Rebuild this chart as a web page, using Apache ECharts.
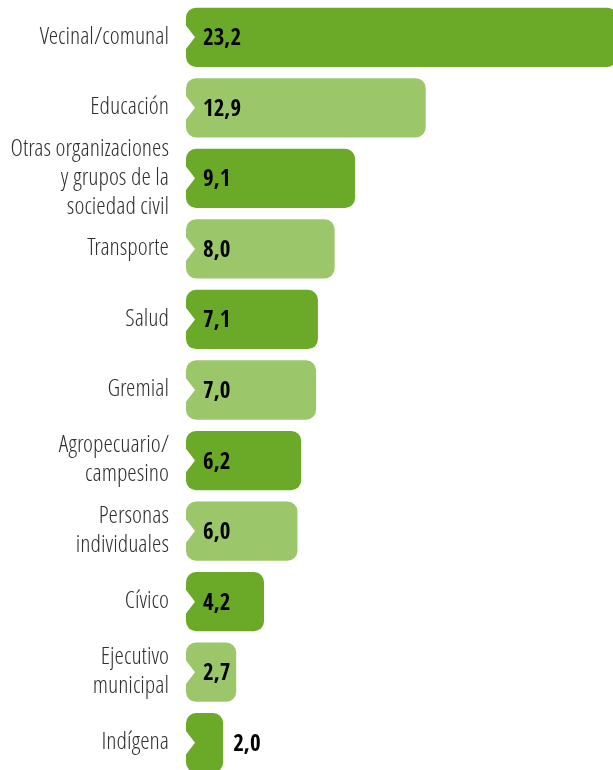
<!DOCTYPE html>
<html>
<head>
<meta charset="utf-8">
<script src="https://cdn.jsdelivr.net/npm/echarts@6/dist/echarts.min.js"></script>
<style>
  html, body { margin: 0; padding: 0; background: #ffffff; overflow: hidden; }
  /* the plot runs slightly past the bottom edge of the page, as the last bar is cut off */
  #chart { width: 613px; height: 778px; }
</style>
</head>
<body>
<div id="chart"></div>
<script>
// Sectors and their shares (%)
const categories = [
  'Vecinal/comunal',
  'Educación',
  'Otras organizaciones\ny grupos de la\nsociedad civil',
  'Transporte',
  'Salud',
  'Gremial',
  'Agropecuario/\ncampesino',
  'Personas\nindividuales',
  'Cívico',
  'Ejecutivo\nmunicipal',
  'Indígena'
];
const values = [23.2, 12.9, 9.1, 8.0, 7.1, 7.0, 6.2, 6.0, 4.2, 2.7, 2.0];

const DARK = '#6aaa28';
const LIGHT = '#9cc66a';
const LABEL_FONT = "'Open Sans Condensed Light', 'Open Sans Condensed', 'Roboto Condensed', sans-serif";
const VALUE_FONT = "'Open Sans Condensed', 'Roboto Condensed', sans-serif";

const fmt = v => v.toFixed(1).replace('.', ',');

const chart = echarts.init(document.getElementById('chart'), null, { renderer: 'canvas' });

// Bar with rounded corners and a chevron notch cut into its left end
function renderBar(params, api) {
  const idx = api.value(0);
  const val = api.value(1);
  const start = api.coord([0, idx]);
  const end = api.coord([val, idx]);
  const band = api.size([0, 1])[1];
  const h = band * 0.84;
  const x0 = start[0];
  const cy = start[1];
  const w = end[0] - x0;
  const color = idx % 2 === 0 ? DARK : LIGHT;
  const notchH = 13;
  const notchD = 9;
  const inside = w > 45;
  return {
    type: 'group',
    children: [
      {
        type: 'rect',
        shape: { x: x0, y: cy - h / 2, width: w, height: h, r: 10 },
        style: { fill: color }
      },
      {
        type: 'polygon',
        shape: { points: [[x0 - 1, cy - notchH], [x0 + notchD, cy], [x0 - 1, cy + notchH]] },
        style: { fill: '#ffffff' }
      },
      {
        type: 'text',
        style: {
          text: fmt(val),
          x: inside ? x0 + 17 : end[0] + 10,
          y: cy + 2,
          verticalAlign: 'middle',
          align: 'left',
          fill: '#000000',
          font: 'bold 23px ' + VALUE_FONT
        }
      }
    ]
  };
}

chart.setOption({
  animation: false,
  grid: { left: 186, right: 0, top: 2, bottom: 0, containLabel: false },
  xAxis: {
    type: 'value',
    min: 0,
    max: 22.98,
    show: false
  },
  yAxis: {
    type: 'category',
    data: categories,
    inverse: true,
    axisLine: { show: false },
    axisTick: { show: false },
    splitLine: { show: false },
    axisLabel: {
      margin: 17,
      color: '#303030',
      fontSize: 24,
      fontFamily: LABEL_FONT,
      lineHeight: 29,
      align: 'right',
      padding: [3, 0, 0, 0]
    }
  },
  series: [{
    type: 'custom',
    renderItem: renderBar,
    encode: { x: 1, y: 0 },
    clip: false,
    data: values.map((v, i) => [i, v])
  }]
});
</script>
</body>
</html>
